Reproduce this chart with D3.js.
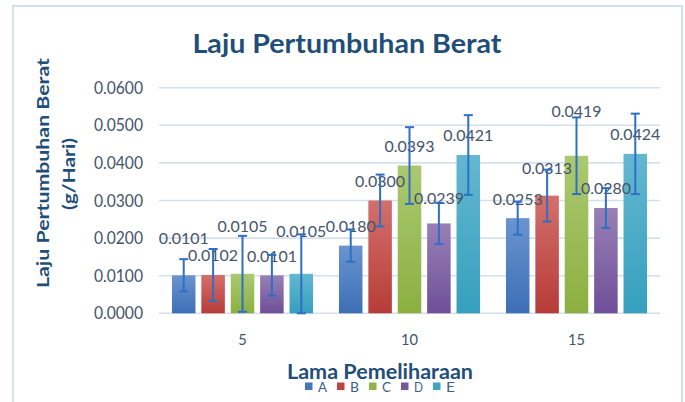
<!DOCTYPE html>
<html><head><meta charset="utf-8">
<script src="https://cdn.jsdelivr.net/npm/d3@7"></script>
<style>
body{margin:0;background:#fff}
svg{display:block}
text{font-family:Lato,"Open Sans",sans-serif}
</style>
</head><body>
<svg id="chart" width="685" height="402"></svg>
<script>
// ---------- data ----------
const categories = ["5", "10", "15"];
const seriesNames = ["A", "B", "C", "D", "E"];
const valuesA = [0.0101, 0.0180, 0.0253];
const valuesB = [0.0102, 0.0300, 0.0313];
const valuesC = [0.0105, 0.0393, 0.0419];
const valuesD = [0.0101, 0.0239, 0.0280];
const valuesE = [0.0105, 0.0421, 0.0424];
const errorsA = [0.0043, 0.0043, 0.0044];
const errorsB = [0.0069, 0.0069, 0.0069];
const errorsC = [0.0101, 0.0102, 0.0102];
const errorsD = [0.0054, 0.0055, 0.0053];
const errorsE = [0.0105, 0.0106, 0.0107];
const yTicks = [0, 0.01, 0.02, 0.03, 0.04, 0.05, 0.06];
const chartTitle = "Laju Pertumbuhan Berat";
const xTitle = "Lama Pemeliharaan";
const yTitleLines = ["Laju Pertumbuhan Berat", "(g/Hari)"];

// ---------- layout / style ----------
const colorsTop = ["#6b94cf", "#d3706c", "#abc972", "#9880b6", "#64b7d0"];
const colorsBot = ["#3c6fb6", "#b73c37", "#8bb040", "#6f4f98", "#35a0be"];
// manual label nudges (px) as in the original chart
const labelLift = [[18, 0, 0], [0, 0, 8], [28, 0, 25], [0, 6, 0], [23, 0, 0]];

const series = seriesNames.map((name, i) => ({
  name,
  values: [valuesA, valuesB, valuesC, valuesD, valuesE][i],
  errors: [errorsA, errorsB, errorsC, errorsD, errorsE][i]
}));

const svg = d3.select("#chart");
const plot = {left: 159, right: 660, top: 87.7, bottom: 313.3};

// measure the real cap height of the font in use
const ctx = document.createElement("canvas").getContext("2d");
function capRatio(weight) {
  ctx.font = `${weight} 100px Lato, "Open Sans", sans-serif`;
  const m = ctx.measureText("H");
  const r = m.actualBoundingBoxAscent / 100;
  return (r > 0.4 && r < 0.9) ? r : 0.72;
}
const capN = capRatio("normal"), capB = capRatio("bold");

// frame
svg.append("rect").attr("x", 13).attr("y", 6).attr("width", 669).attr("height", 410)
  .attr("fill", "#fff").attr("stroke", "#d3e0f0").attr("stroke-width", 2);

const y = d3.scaleLinear().domain([0, 0.06]).range([plot.bottom, plot.top]);
const x0 = d3.scaleBand().domain(categories).range([plot.left, plot.right])
  .paddingInner(0.12).paddingOuter(0.06);
const x1 = d3.scaleBand().domain(seriesNames).range([0, x0.bandwidth()])
  .paddingInner(0.2).paddingOuter(0.1);

// text helper: size from cap height (px), compressed to target width (Calibri-like proportions)
function txt(parent, x, yy, str, cap, width, bold, rotate) {
  const fs = cap / (bold ? capB : capN);
  const t = parent.append("text")
    .attr("transform", `translate(${x},${yy})` + (rotate ? " rotate(-90)" : ""))
    .attr("font-size", fs.toFixed(2)).text(str);
  if (bold) t.attr("font-weight", "bold");
  if (width) t.attr("textLength", width).attr("lengthAdjust", "spacingAndGlyphs");
  return t;
}

// gradients
const defs = svg.append("defs");
seriesNames.forEach((n, i) => {
  const g = defs.append("linearGradient").attr("id", "grad" + n)
    .attr("x1", 0).attr("y1", 0).attr("x2", 0).attr("y2", 1);
  g.append("stop").attr("offset", "0%").attr("stop-color", colorsTop[i]);
  g.append("stop").attr("offset", "100%").attr("stop-color", colorsBot[i]);
});

// gridlines
svg.append("g").selectAll("line").data(yTicks).join("line")
  .attr("x1", plot.left).attr("x2", plot.right)
  .attr("y1", d => y(d)).attr("y2", d => y(d))
  .attr("stroke", "#d5e0ef").attr("stroke-width", 1.6);

// y tick labels
const yAxisG = svg.append("g").attr("fill", "#44546a").attr("text-anchor", "end");
yTicks.forEach(v => {
  txt(yAxisG, 143, y(v) + 6, d3.format(".4f")(v), 12.3, 49);
});

// x tick labels
const xAxisG = svg.append("g").attr("fill", "#44546a").attr("text-anchor", "middle");
categories.forEach(c => {
  txt(xAxisG, x0(c) + x0.bandwidth() / 2, 345, c, 11.5, c.length * 8.5);
});

// bars
const groups = svg.append("g").selectAll("g").data(series).join("g");
groups.each(function (s) {
  const g = d3.select(this);
  categories.forEach((c, ci) => {
    const v = s.values[ci];
    g.append("rect")
      .attr("x", x0(c) + x1(s.name)).attr("width", x1.bandwidth())
      .attr("y", y(v)).attr("height", y(0) - y(v))
      .attr("fill", `url(#grad${s.name})`);
  });
});

// data labels
const labelsG = svg.append("g").attr("fill", "#44546a").attr("text-anchor", "middle");
series.forEach((s, si) => {
  categories.forEach((c, ci) => {
    const v = s.values[ci];
    const cx = x0(c) + x1(s.name) + x1.bandwidth() / 2;
    txt(labelsG, cx, y(v) - 19.2 - labelLift[si][ci] + 5.6, d3.format(".4f")(v), 11.2, 50);
  });
});

// error bars
const errG = svg.append("g").attr("stroke", "#2f6fc6").attr("stroke-width", 2).attr("fill", "none");
series.forEach(s => {
  categories.forEach((c, ci) => {
    const v = s.values[ci], e = s.errors[ci];
    const cx = x0(c) + x1(s.name) + x1.bandwidth() / 2;
    const hi = y(v + e), lo = y(Math.max(0, v - e));
    errG.append("line").attr("x1", cx).attr("x2", cx).attr("y1", hi).attr("y2", lo);
    errG.append("line").attr("x1", cx - 4.5).attr("x2", cx + 4.5).attr("y1", hi).attr("y2", hi);
    errG.append("line").attr("x1", cx - 4.5).attr("x2", cx + 4.5).attr("y1", lo).attr("y2", lo);
  });
});

// title
txt(svg, 347, 53, chartTitle, 19.5, 309, true)
  .attr("text-anchor", "middle").attr("fill", "#1f4e79");

// x axis title
txt(svg, 380, 378.5, xTitle, 15, 186, true)
  .attr("text-anchor", "middle").attr("fill", "#1f4e79");

// y axis title (two lines)
txt(svg, 48.5, 173, yTitleLines[0], 12, 230, true, true)
  .attr("text-anchor", "middle").attr("fill", "#1f4e79");
txt(svg, 75, 174, yTitleLines[1], 12, 72, true, true)
  .attr("text-anchor", "middle").attr("fill", "#1f4e79");

// legend
const legend = svg.append("g");
seriesNames.forEach((n, i) => {
  const lx = 305 + i * 32;
  legend.append("rect").attr("x", lx).attr("y", 382.5).attr("width", 7.5).attr("height", 7.5)
    .attr("fill", colorsBot[i]).attr("opacity", 0.95);
  txt(legend, lx + 13, 391.5, n, 10, 9).attr("fill", "#3b5e8c");
});
</script>
</body></html>
